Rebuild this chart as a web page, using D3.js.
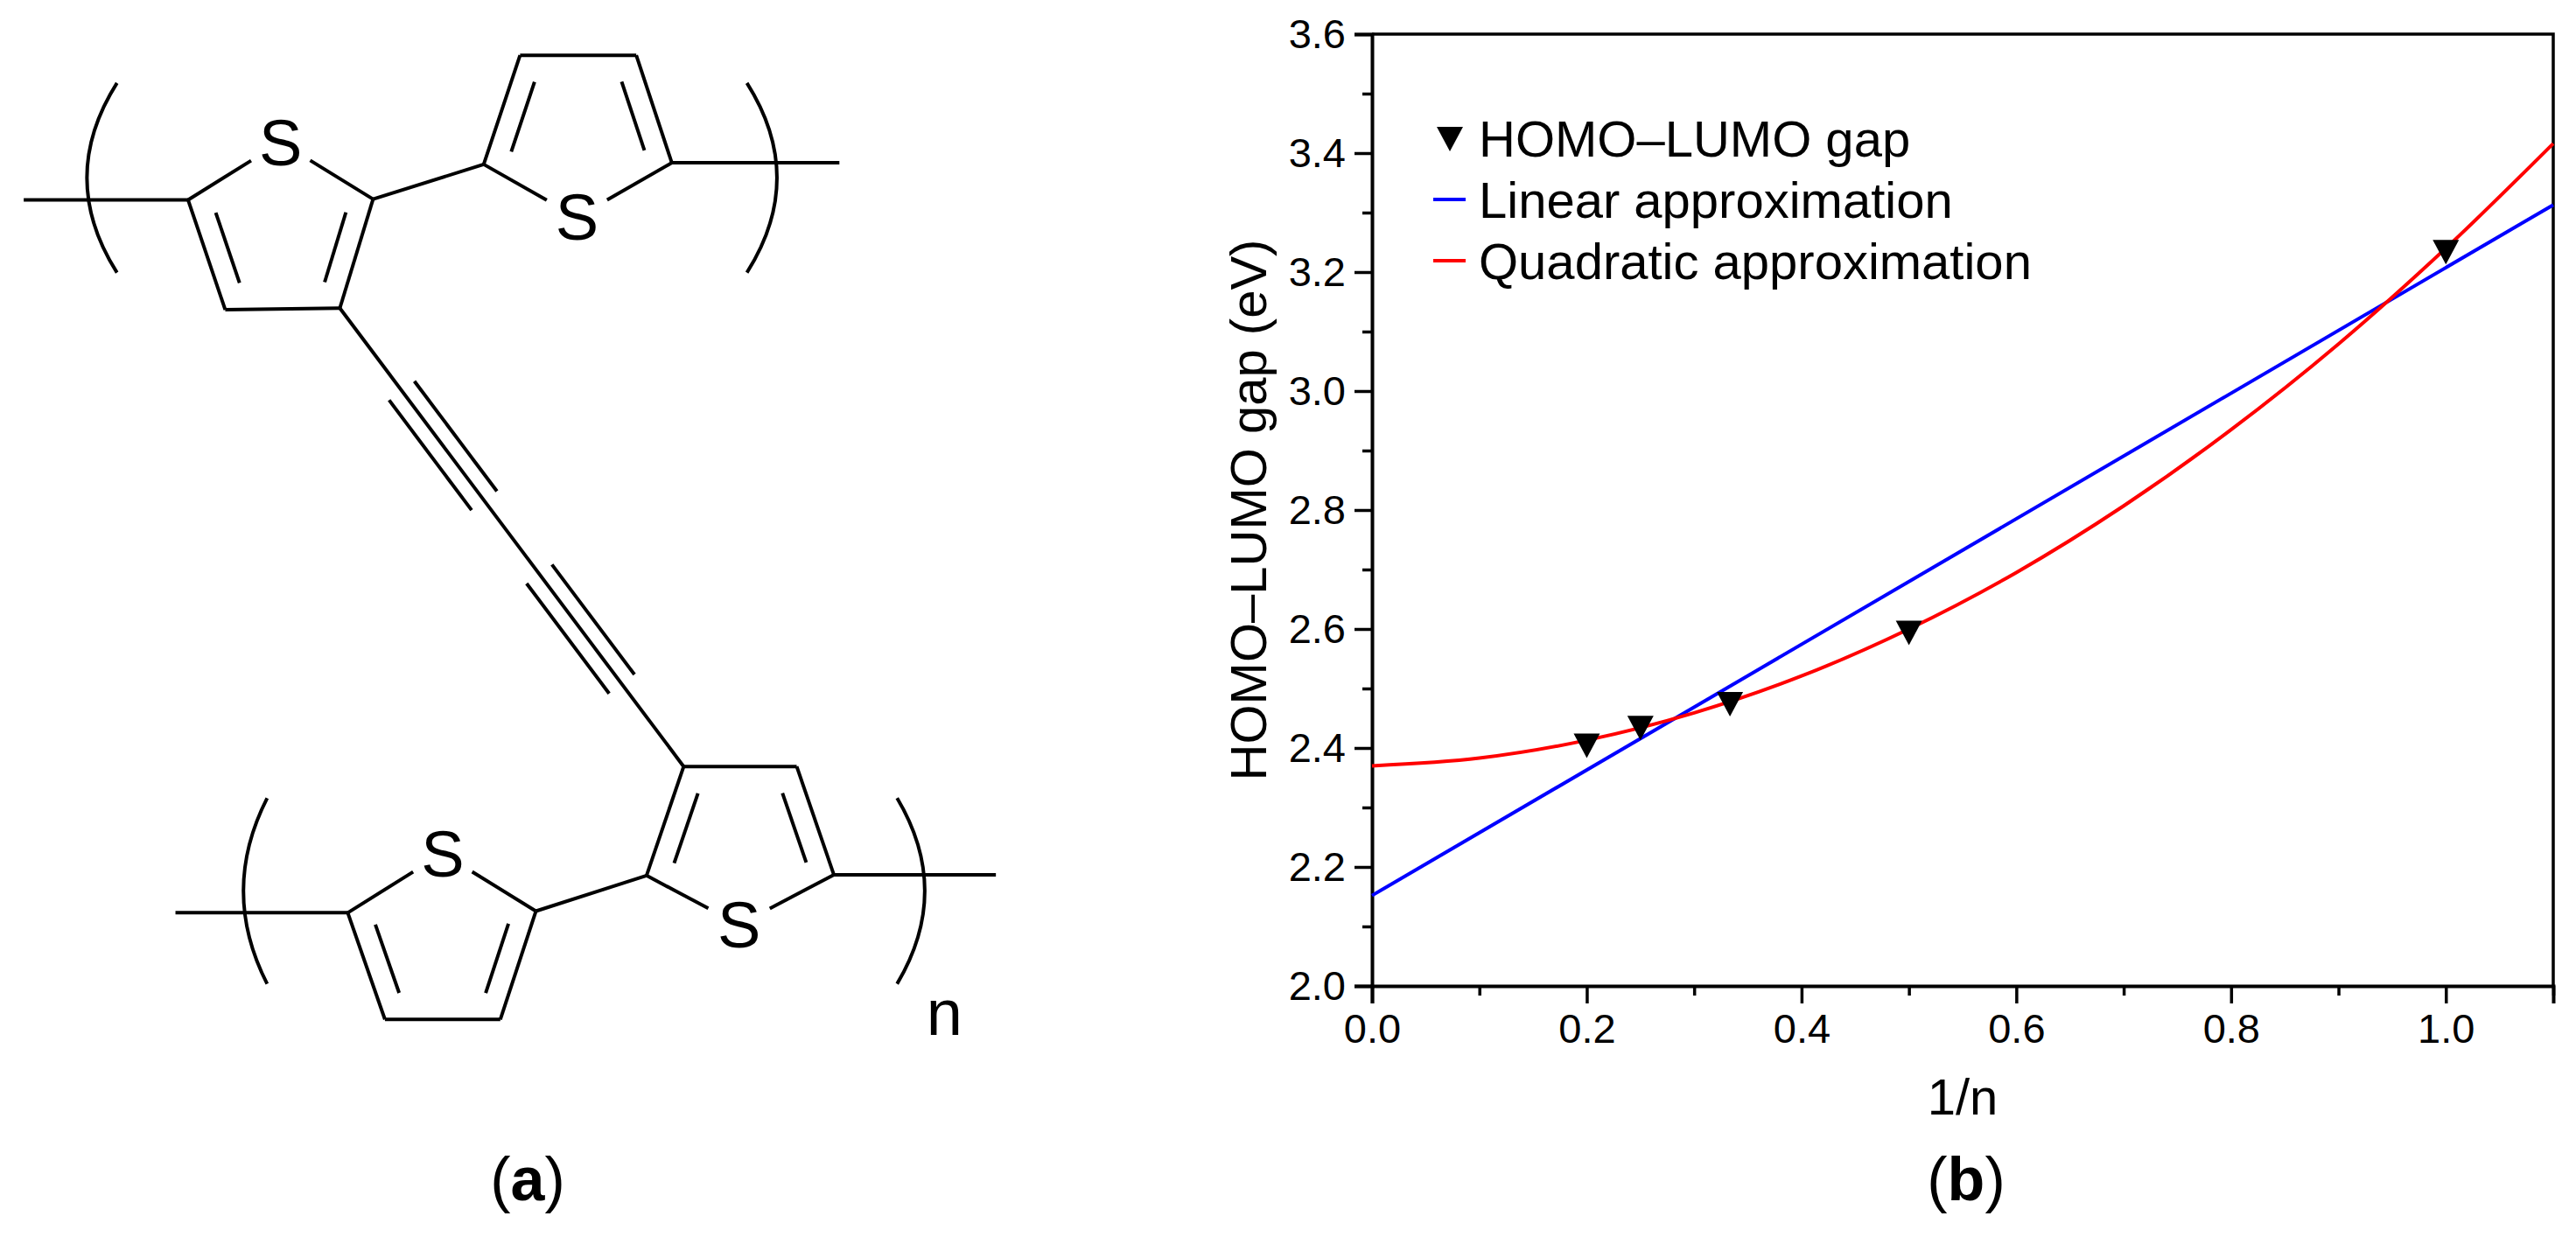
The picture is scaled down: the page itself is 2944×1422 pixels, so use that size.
<!DOCTYPE html>
<html><head><meta charset="utf-8">
<script src="https://cdn.jsdelivr.net/npm/d3@7"></script>
<style>body{margin:0;background:#fff}svg{display:block}text{font-family:"Liberation Sans",Arial,sans-serif}</style>
</head><body>
<script>
// ---- data ----
const invN = [0.2, 0.25, 1/3, 0.5, 1.0];
const gap = [2.405, 2.435, 2.475, 2.595, 3.235];
const linX = [0, 1.1];
const linY = [2.152, 3.313];
const quadX = [0, 0.1, 0.2, 0.3, 0.4, 0.5, 0.6, 0.7, 0.8, 0.9, 1.0, 1.1];
const quadY = [2.370, 2.383, 2.413, 2.459, 2.521, 2.600, 2.695, 2.807, 2.935, 3.079, 3.240, 3.416];
const xTicks = [0, 0.2, 0.4, 0.6, 0.8, 1.0];
const yTicks = [2.0, 2.2, 2.4, 2.6, 2.8, 3.0, 3.2, 3.4, 3.6];
const legendLabels = ["HOMO–LUMO gap", "Linear approximation", "Quadratic approximation"];

const W = 2944, H = 1422;
const svg = d3.select("body").append("svg").attr("width", W).attr("height", H);

// ---- chart (b) ----
const L = 1568, R = 2918, T = 39, B = 1127;
const x = d3.scaleLinear().domain([0, 1.1]).range([L, R]);
const y = d3.scaleLinear().domain([2.0, 3.6]).range([B, T]);

svg.append("path").attr("d", `M${L},${T}H${R}V${B}`).attr("fill", "none").attr("stroke", "#000").attr("stroke-width", 3.5);

svg.append("g").attr("transform", `translate(0,${B})`)
  .call(d3.axisBottom(x).tickValues(xTicks).tickFormat(d3.format(".1f")).tickSize(20).tickPadding(12));
svg.append("g").attr("transform", `translate(0,${B})`)
  .call(d3.axisBottom(x).tickValues([0.1,0.3,0.5,0.7,0.9,1.1]).tickFormat("").tickSize(11))
  .select(".domain").remove();
svg.append("g").attr("transform", `translate(${L},0)`)
  .call(d3.axisLeft(y).tickValues(yTicks).tickFormat(d3.format(".1f")).tickSize(20).tickPadding(10));
svg.append("g").attr("transform", `translate(${L},0)`)
  .call(d3.axisLeft(y).tickValues([2.1,2.3,2.5,2.7,2.9,3.1,3.3,3.5]).tickFormat("").tickSize(11))
  .select(".domain").remove();
svg.selectAll(".domain").attr("stroke-width", 4);
svg.selectAll(".tick line").attr("stroke-width", 3.5);
svg.selectAll(".tick text").attr("font-size", 47).attr("fill", "#000").style("font-family", "Liberation Sans, Arial");

svg.append("text").attr("x", (L + R) / 2).attr("y", 1274).attr("text-anchor", "middle").attr("font-size", 58).text("1/n");
svg.append("text").attr("transform", `translate(1447,${(T + B) / 2}) rotate(-90)`).attr("text-anchor", "middle").attr("font-size", 58).text("HOMO–LUMO gap (eV)");

const line = d3.line().x(d => x(d[0])).y(d => y(d[1]));
svg.append("path").datum(d3.zip(linX, linY)).attr("d", line).attr("fill", "none").attr("stroke", "#0000ff").attr("stroke-width", 4);
svg.append("path").datum(d3.zip(quadX, quadY)).attr("d", line.curve(d3.curveMonotoneX)).attr("fill", "none").attr("stroke", "#ff0000").attr("stroke-width", 4);

const tri = "M-15,-13L15,-13L0,15Z";
svg.selectAll(".pt").data(d3.zip(invN, gap)).join("path")
  .attr("d", tri).attr("transform", d => `translate(${x(d[0])},${y(d[1])})`).attr("fill", "#000");

// legend
const lg = svg.append("g");
lg.append("path").attr("d", tri).attr("transform", "translate(1657,158)").attr("fill", "#000");
lg.append("line").attr("x1", 1638).attr("x2", 1675).attr("y1", 228).attr("y2", 228).attr("stroke", "#0000ff").attr("stroke-width", 4);
lg.append("line").attr("x1", 1638).attr("x2", 1675).attr("y1", 298).attr("y2", 298).attr("stroke", "#ff0000").attr("stroke-width", 4);
legendLabels.forEach((t, i) => lg.append("text").attr("x", 1690).attr("y", 158 + i * 70 + 21).attr("font-size", 58).text(t));

svg.append("text").attr("x", 2247).attr("y", 1372).attr("text-anchor", "middle").attr("font-size", 70).html('(<tspan font-weight="bold">b</tspan>)');
svg.append("text").attr("x", 603).attr("y", 1372).attr("text-anchor", "middle").attr("font-size", 70).html('(<tspan font-weight="bold">a</tspan>)');

// ---- molecule (a) ----
const m = svg.append("g").attr("transform", "scale(0.9033)").attr("stroke", "#000").attr("stroke-width", 4.4).attr("fill", "none");
function seg(a, b) { m.append("line").attr("x1", a[0]).attr("y1", a[1]).attr("x2", b[0]).attr("y2", b[1]); }
function shrink(a, b, da, db) {
  const dx = b[0]-a[0], dy = b[1]-a[1], l = Math.hypot(dx, dy);
  return [[a[0]+dx*da/l, a[1]+dy*da/l], [b[0]-dx*db/l, b[1]-dy*db/l]];
}
function inner(a, b, c) {
  const dx = b[0]-a[0], dy = b[1]-a[1], l = Math.hypot(dx, dy);
  let nx = -dy/l, ny = dx/l;
  const mx = (a[0]+b[0])/2, my = (a[1]+b[1])/2;
  if ((c[0]-mx)*nx + (c[1]-my)*ny < 0) { nx = -nx; ny = -ny; }
  const o = 28, s = 0.18;
  seg([a[0]+dx*s+nx*o, a[1]+dy*s+ny*o], [b[0]-dx*s+nx*o, b[1]-dy*s+ny*o]);
}
function thiophene(S, C2, C3, C4, C5) {
  const c = [(S[0]+C2[0]+C3[0]+C4[0]+C5[0])/5, (S[1]+C2[1]+C3[1]+C4[1]+C5[1])/5];
  const a = shrink(S, C2, 44, 0); seg(a[0], a[1]);
  const b = shrink(S, C5, 44, 0); seg(b[0], b[1]);
  seg(C2, C3); seg(C3, C4); seg(C4, C5);
  inner(C2, C3, c); inner(C4, C5, c);
  svg.append("text").attr("x", S[0]*0.9033).attr("y", S[1]*0.9033 + 26).attr("text-anchor", "middle").attr("font-size", 74).text("S");
}
thiophene([355,180], [472,252], [430,390], [285,392], [238,253]);
thiophene([730,275], [612,208], [658,70], [805,70], [850,206]);
thiophene([935,1170], [818,1108], [865,970], [1008,970], [1055,1107]);
thiophene([560,1080], [678,1153], [633,1290], [487,1290], [440,1155]);
seg([30,253],[238,253]); seg([472,252],[612,208]); seg([850,206],[1062,206]);
seg([222,1155],[440,1155]); seg([678,1153],[818,1108]); seg([1055,1107],[1260,1107]);
const A = [430,390], Bp = [865,970];
seg(A, Bp);
function alk(t0, t1) {
  const dx = Bp[0]-A[0], dy = Bp[1]-A[1], l = Math.hypot(dx, dy), nx = -dy/l*20, ny = dx/l*20;
  [1,-1].forEach(s => seg([A[0]+dx*t0+s*nx, A[1]+dy*t0+s*ny], [A[0]+dx*t1+s*nx, A[1]+dy*t1+s*ny]));
}
alk(0.18, 0.42); alk(0.58, 0.82);
function paren(x0, y0, y1, bulge) {
  m.append("path").attr("d", `M${x0},${y0}Q${x0+bulge*2},${(y0+y1)/2} ${x0},${y1}`);
}
paren(148,105,345,-38); paren(945,105,345,38);
paren(338,1010,1245,-30); paren(1135,1010,1245,35);
svg.append("text").attr("x", 1195*0.9033).attr("y", 1310*0.9033).attr("text-anchor", "middle").attr("font-size", 74).text("n");
</script>
</body></html>
